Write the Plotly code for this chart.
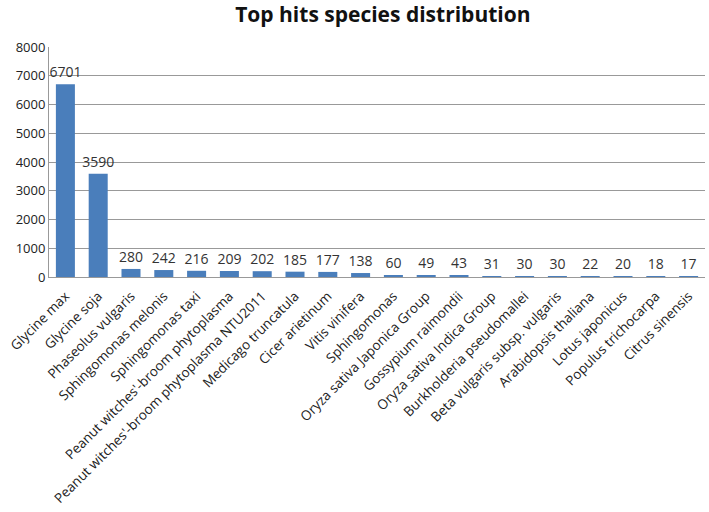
import plotly.graph_objects as go

species = [
    "Glycine max", "Glycine soja", "Phaseolus vulgaris", "Sphingomonas melonis",
    "Sphingomonas taxi", "Peanut witches'-broom phytoplasma",
    "Peanut witches'-broom phytoplasma NTU2011", "Medicago truncatula",
    "Cicer arietinum", "Vitis vinifera", "Sphingomonas", "Oryza sativa Japonica Group",
    "Gossypium raimondii", "Oryza sativa Indica Group", "Burkholderia pseudomallei",
    "Beta vulgaris subsp. vulgaris", "Arabidopsis thaliana", "Lotus japonicus",
    "Populus trichocarpa", "Citrus sinensis",
]
hits = [6701, 3590, 280, 242, 216, 209, 202, 185, 177, 138, 60, 49, 43, 31, 30, 30, 22, 20, 18, 17]

fig = go.Figure(go.Bar(
    x=species,
    y=hits,
    text=[str(v) for v in hits],
    textposition="outside",
    constraintext="none",
    cliponaxis=False,
    textfont=dict(size=14, color="#333333"),
    marker=dict(color="#4a7ebb", line=dict(width=0)),
))

fig.update_layout(
    width=709,
    height=512,
    margin=dict(l=49, r=4, t=47, b=235),
    plot_bgcolor="white",
    paper_bgcolor="white",
    bargap=0.42,
    showlegend=False,
    font=dict(family="Open Sans", size=12, color="#222222"),
    title=dict(
        text="<b>Top hits species distribution</b>",
        x=0.54, xanchor="center", y=0.972, yanchor="middle",
        font=dict(size=21, color="#111111", family="Open Sans"),
    ),
)
fig.update_xaxes(
    tickangle=-45,
    showline=True, linecolor="#999999", linewidth=1,
    ticks="", ticklabelstandoff=5, tickfont=dict(size=13.5, color="#222222"),
)
fig.update_yaxes(
    range=[0, 8000], dtick=1000,
    showgrid=True, gridcolor="#999999", gridwidth=1,
    showline=True, linecolor="#999999", linewidth=1,
    zeroline=False, ticks="", tickfont=dict(size=13, color="#222222"),
)

# drop the default page margin so the chart sits at the window's corner
fig.write_html(
    "out.html",
    config={"displayModeBar": False},
    post_script="document.body.style.margin='0';",
)
